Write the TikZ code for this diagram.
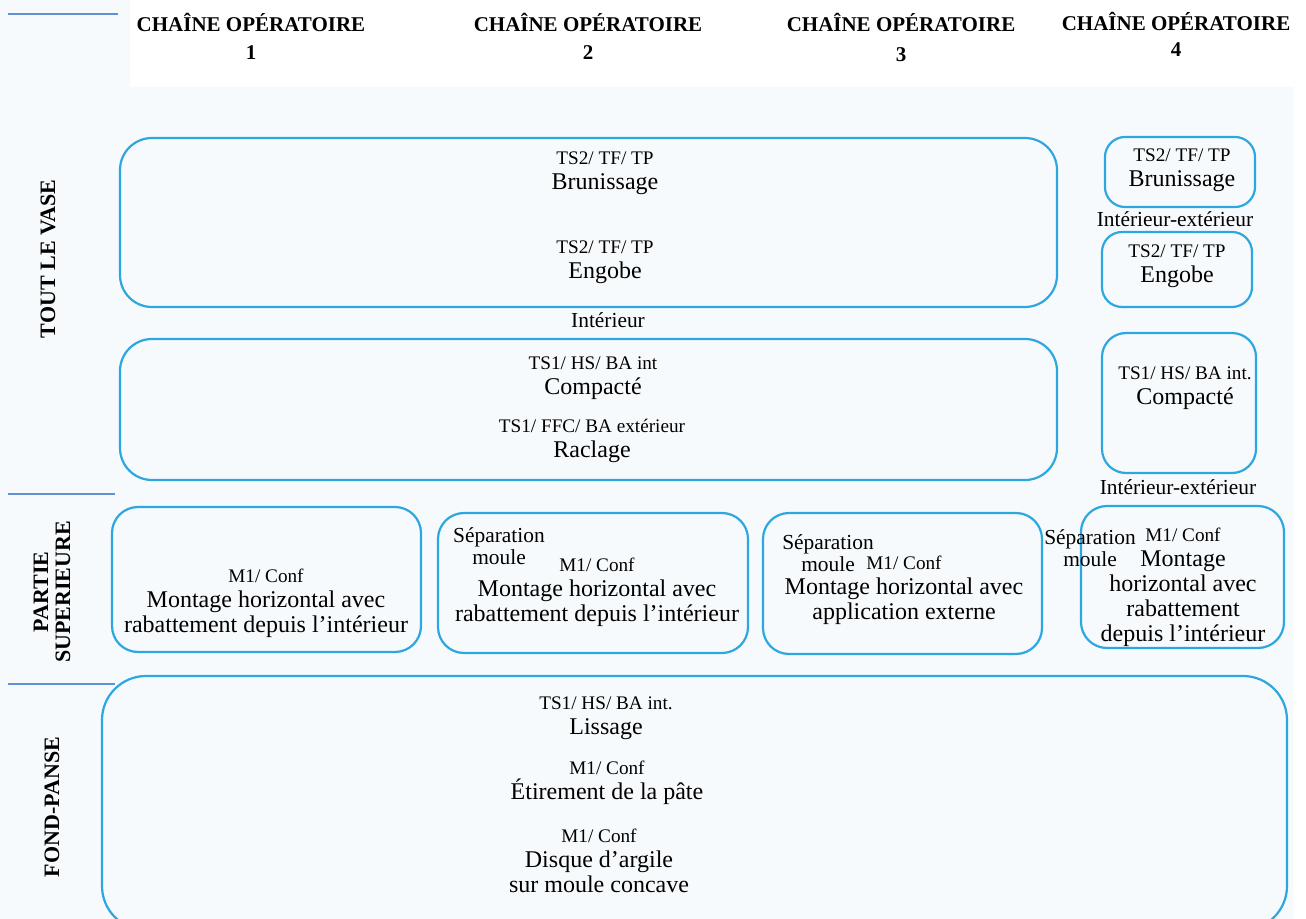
\documentclass[tikz,border=0pt]{standalone}
\usepackage{fontspec}
\setmainfont{Liberation Serif}
\usepackage{tikz}
\usetikzlibrary{fit}
\definecolor{fond}{RGB}{247,250,252}
\definecolor{bordure}{RGB}{45,167,224}
\definecolor{trait}{RGB}{95,145,215}
\newcommand{\outil}[1]{{\fontsize{9.6pt}{12.5pt}\selectfont #1}}
\tikzset{
  box/.style={draw=bordure, line width=1.1pt, rounded corners=#1, inner sep=0pt},
  box/.default=13pt,
  rule/.style={draw=trait, line width=0.9pt},
  header/.style={font=\bfseries\fontsize{10.5pt}{14pt}\selectfont, align=center},
  part/.style={font=\bfseries\fontsize{11pt}{11pt}\selectfont, align=center, rotate=90},
  stage/.style={font=\fontsize{12pt}{12.5pt}\selectfont, align=center, inner sep=0pt},
  side/.style={font=\fontsize{10.7pt}{11pt}\selectfont, align=center, inner sep=0pt},
}

\begin{document}
\begin{tikzpicture}[x=0.5pt, y=-0.5pt]
  % background
  \useasboundingbox (0,0) rectangle (1306,919);
  \fill[white] (0,0) rectangle (1306,919);
  \fill[fond] (0,0) -- (130,0) -- (130,87) -- (1293,87) -- (1293,919) -- (0,919) -- cycle;
  \draw[rule] (8,14) -- (118,14);
  \draw[rule] (8,494) -- (115,494);
  \draw[rule] (8,684) -- (115,684);

  % column headers
  \node[header] (ch1) at (251,36) {CHAÎNE OPÉRATOIRE\\1};
  \node[header] (ch2) at (588,36) {CHAÎNE OPÉRATOIRE\\2};
  \node[header] (ch3) at (901,37) {CHAÎNE OPÉRATOIRE\\[1pt]3};
  \node[header] (ch4) at (1176,34) {CHAÎNE OPÉRATOIRE\\[-1pt]4};

  % row labels
  \node[part] (vase) at (48,259) {TOUT LE VASE};
  \node[part] (haut) at (52,592) {PARTIE\\SUPERIEURE};
  \node[part] (panse) at (52,807) {FOND-PANSE};

  % whole vessel
  \node[box=16pt, fit={(120,138) (1057,307)}] (surface) {};
  \node[stage] (brun) at (605,173) {\outil{TS2/ TF/ TP}\\Brunissage};
  \node[stage] (engobe) at (605,262) {\outil{TS2/ TF/ TP}\\Engobe};
  \node[side] (inter) at (608,320) {Intérieur};
  \node[box=16pt, fit={(120,339) (1057,480)}] (masse) {};
  \node[stage] (compact) at (593,378) {\outil{TS1/ HS/ BA int}\\Compacté};
  \node[stage] (raclage) at (592,441) {\outil{TS1/ FFC/ BA extérieur}\\Raclage};

  % chain 4, whole vessel
  \node[box=10pt, fit={(1105,137) (1255,207)}] (brunbox) {};
  \node[stage] (brun4) at (1182,170) {\outil{TS2/ TF/ TP}\\Brunissage};
  \node[side] (interext1) at (1175,219) {Intérieur-extérieur};
  \node[box=10pt, fit={(1102,232) (1252,307)}] (engobebox) {};
  \node[stage] (engobe4) at (1177,266) {\outil{TS2/ TF/ TP}\\Engobe};
  \node[box=12pt, fit={(1102,333) (1256,473)}] (compactbox) {};
  \node[stage] (compact4) at (1185,388) {\outil{TS1/ HS/ BA int.}\\Compacté};
  \node[side] (interext2) at (1178,487) {Intérieur-extérieur};

  % upper part
  \node[box, fit={(112,507) (421,652)}] (haut1) {};
  \node[stage] (montage1) at (266,603) {\outil{M1/ Conf}\\Montage horizontal avec\\rabattement depuis l’intérieur};
  \node[box, fit={(438,513) (748,653)}] (haut2) {};
  \node[side] (sep2) at (499,546) {Séparation\\moule};
  \node[stage] (montage2) at (597,592) {\outil{M1/ Conf}\\Montage horizontal avec\\rabattement depuis l’intérieur};
  \node[box, fit={(763,513) (1042,654)}] (haut3) {};
  \node[side] (sep3) at (828,553) {Séparation\\moule};
  \node[stage] (montage3) at (904,590) {\outil{M1/ Conf}\\Montage horizontal avec\\application externe};
  \node[box, fit={(1081,506) (1284,648)}] (haut4) {};
  \node[side] (sep4) at (1090,548) {Séparation\\moule};
  \node[stage] (montage4) at (1183,587) {\outil{M1/ Conf}\\Montage\\horizontal avec\\rabattement\\depuis l’intérieur};

  % base and body
  \node[box=22pt, fit={(102,676) (1287,930)}] (base) {};
  \node[stage] (lissage) at (606,718) {\outil{TS1/ HS/ BA int.}\\Lissage};
  \node[stage] (etirement) at (607,783) {\outil{M1/ Conf}\\Étirement de la pâte};
  \node[stage] (disque) at (599,861) {\outil{M1/ Conf}\\Disque d’argile\\sur moule concave};
\end{tikzpicture}
\end{document}
